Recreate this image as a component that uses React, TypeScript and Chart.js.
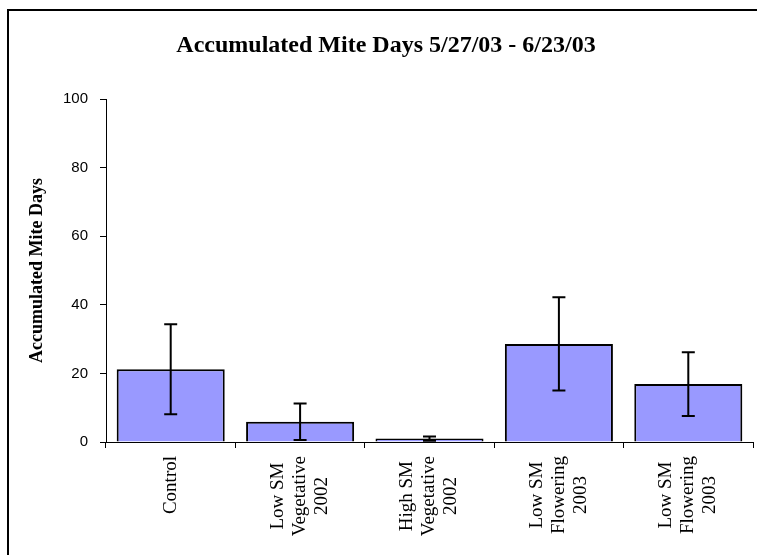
import React, { useEffect, useRef } from "react";
import { Chart, registerables } from "chart.js";

Chart.register(...registerables);

const TITLE = "Accumulated Mite Days 5/27/03 - 6/23/03";
const Y_TITLE = "Accumulated Mite Days";
const categories: string[][] = [
  ["Control"],
  ["Low SM", "Vegetative", "2002"],
  ["High SM", "Vegetative", "2002"],
  ["Low SM", "Flowering", "2003"],
  ["Low SM", "Flowering", "2003"],
];
const means = [21.2, 5.9, 1.0, 28.6, 16.9];
const errors = [13.1, 5.3, 0.6, 13.6, 9.3];
const yTicks = [0, 20, 40, 60, 80, 100];

const SERIF = '"Liberation Serif", "Times New Roman", serif';
const SANS = '"Liberation Sans", Arial, sans-serif';

const PAD_LEFT = 19;

const extrasPlugin = {
  id: "extras",
  afterDatasetsDraw(chart: any) {
    const ctx = chart.ctx;
    const meta = chart.getDatasetMeta(0);
    const ys = chart.scales.y;
    ctx.save();
    ctx.strokeStyle = "#000";
    ctx.lineWidth = 2;
    meta.data.forEach((bar: any, i: number) => {
      const x = bar.x;
      const top = ys.getPixelForValue(means[i] + errors[i]);
      const bot = ys.getPixelForValue(means[i] - errors[i]);
      const cap = 6.5;
      ctx.beginPath();
      ctx.moveTo(x, top);
      ctx.lineTo(x, bot);
      ctx.moveTo(x - cap, top);
      ctx.lineTo(x + cap, top);
      ctx.moveTo(x - cap, bot);
      ctx.lineTo(x + cap, bot);
      ctx.stroke();
    });
    ctx.restore();
  },
  afterDraw(chart: any) {
    const ctx = chart.ctx;
    const xs = chart.scales.x;
    ctx.save();
    ctx.fillStyle = "#000";
    ctx.font = `19px ${SERIF}`;
    const lineH = 22;
    const topY = chart.chartArea.bottom + 14;
    categories.forEach((lines, i) => {
      const cx = xs.getPixelForValue(i);
      const w = Math.max(...lines.map((l) => ctx.measureText(l).width));
      const cy = topY + w / 2;
      ctx.save();
      ctx.translate(cx, cy);
      ctx.rotate(-Math.PI / 2);
      ctx.textAlign = "center";
      ctx.textBaseline = "middle";
      const n = lines.length;
      lines.forEach((l, k) => {
        ctx.fillText(l, 0, (k - (n - 1) / 2) * lineH);
      });
      ctx.restore();
    });
    ctx.strokeStyle = "#000";
    ctx.lineWidth = 2;
    ctx.beginPath();
    ctx.moveTo(8, chart.height);
    ctx.lineTo(8, 10);
    ctx.lineTo(chart.width, 10);
    ctx.stroke();
    ctx.restore();
  },
};

export default function App() {
  const ref = useRef<HTMLCanvasElement>(null);
  useEffect(() => {
    if (!ref.current) return;
    const chart = new Chart(ref.current, {
      type: "bar",
      data: {
        labels: categories.map((c) => c.join(" ")),
        datasets: [
          {
            data: means,
            backgroundColor: "#9999FF",
            borderColor: "#000",
            borderWidth: 2,
            barPercentage: 0.835,
            categoryPercentage: 1,
          },
        ],
      },
      options: {
        responsive: false,
        animation: false,
        devicePixelRatio: 1,
        layout: { padding: { left: PAD_LEFT, right: 4, top: 0, bottom: 0 } },
        plugins: {
          legend: { display: false },
          tooltip: { enabled: false },
          title: {
            display: true,
            text: TITLE,
            color: "#000",
            font: { family: SERIF, size: 24, weight: "bold" },
            padding: { top: 31.5, bottom: 38.7 },
          },
        },
        scales: {
          x: {
            offset: true,
            grid: {
              offset: true,
              drawOnChartArea: false,
              drawTicks: true,
              tickLength: 6,
              color: "#000",
            },
            border: { display: true, color: "#000", width: 1 },
            ticks: { display: false },
            afterFit: (s: any) => {
              s.height = 113;
            },
          },
          y: {
            min: 0,
            max: 100,
            afterBuildTicks: (s: any) => {
              s.ticks = yTicks.map((v) => ({ value: v }));
            },
            grid: {
              drawOnChartArea: false,
              drawTicks: true,
              tickLength: 6,
              color: "#000",
            },
            border: { display: true, color: "#000", width: 1 },
            ticks: {
              color: "#000",
              font: { family: SANS, size: 15 },
              padding: 12,
            },
            title: {
              display: true,
              text: Y_TITLE,
              color: "#000",
              font: { family: SERIF, size: 18, weight: "bold" },
              padding: { top: 8, bottom: 0 },
            },
            afterFit: (s: any) => {
              s.width = 106 - PAD_LEFT;
            },
          },
        },
      },
      plugins: [extrasPlugin],
    });
    return () => chart.destroy();
  }, []);
  return (
    <div style={{ position: "absolute", left: 0, top: 0, width: 757, height: 555, background: "#fff" }}>
      <canvas ref={ref} width={757} height={555} style={{ display: "block" }} />
    </div>
  );
}
